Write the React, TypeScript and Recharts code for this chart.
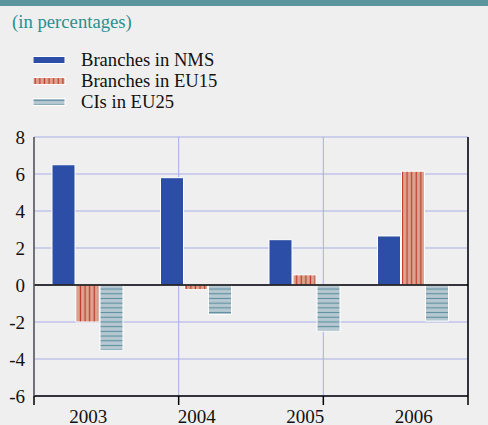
import React from 'react'
import { BarChart, Bar, XAxis, YAxis, CartesianGrid, ReferenceLine } from 'recharts'

const serif = '"Liberation Serif", "DejaVu Serif", serif'

const years = ['2003', '2004', '2005', '2006']
const branchesNms = [6.5, 5.8, 2.45, 2.65]
const branchesEu15 = [-2.0, -0.25, 0.55, 6.15]
const cisEu25 = [-3.55, -1.6, -2.5, -1.95]
const yTicks = [-6, -4, -2, 0, 2, 4, 6, 8]
const boundaryTicks = [0, 1, 2, 3, 4]

const data = years.map((y, i) => ({
  year: y,
  nms: branchesNms[i],
  eu15: branchesEu15[i],
  ci: cisEu25[i],
}))

const NMS_COLOR = '#2c4ea6'
const GRID = '#a9aee6'

const legendItems = [
  { label: 'Branches in NMS', fill: NMS_COLOR },
  { label: 'Branches in EU15', fill: 'url(#stripesV)' },
  { label: 'CIs in EU25', fill: 'url(#stripesH)' },
]

function Patterns() {
  return (
    <defs>
      <pattern id="stripesV" width="4.6" height="10" patternUnits="userSpaceOnUse">
        <rect width="4.6" height="10" fill="#dca591" />
        <rect x="1.6" width="1.3" height="10" fill="#c0402f" />
      </pattern>
      <pattern id="stripesH" width="10" height="4.7" patternUnits="userSpaceOnUse">
        <rect width="10" height="4.7" fill="#b6c8d1" />
        <rect y="1.8" width="10" height="1.1" fill="#5f8fa0" />
      </pattern>
    </defs>
  )
}

export default function App() {
  return (
    <div style={{ position: 'absolute', left: 0, top: 0, width: 488, height: 425, background: '#efefef', overflow: 'hidden', fontFamily: serif }}>
      <div style={{ position: 'absolute', left: 0, top: 0, width: 488, height: 6, background: '#5b969e' }} />
      <div style={{ position: 'absolute', left: 12, top: 11, fontSize: 18.7, lineHeight: '22px', color: '#2a9090' }}>(in percentages)</div>

      <div style={{ position: 'absolute', left: 33, top: 49 }}>
        {legendItems.map((it) => (
          <div key={it.label} style={{ display: 'flex', alignItems: 'center', height: 21 }}>
            <svg width={33} height={8} style={{ marginRight: 15 }}>
              <Patterns />
              <rect x={0} y={0.5} width={32} height={7} fill={it.fill} stroke="#ffffff" strokeWidth={1} />
            </svg>
            <span style={{ fontSize: 18.6, lineHeight: '21px', color: '#111' }}>{it.label}</span>
          </div>
        ))}
      </div>

      <BarChart
        width={488}
        height={425}
        data={data}
        margin={{ top: 137, right: 0, left: 0, bottom: 0 }}
        barCategoryGap="16.6%"
        barGap={1}
        style={{ position: 'absolute', left: 0, top: 0 }}
      >
        <Patterns />
        <XAxis
          xAxisId="b"
          type="number"
          domain={[0, 4]}
          ticks={boundaryTicks}
          height={1}
          tickSize={9}
          tickFormatter={() => ''}
          axisLine={{ stroke: '#000', strokeWidth: 1.5 }}
          tickLine={{ stroke: '#000', strokeWidth: 1.5 }}
        />
        <XAxis
          xAxisId="cat"
          dataKey="year"
          height={28}
          axisLine={false}
          tickLine={false}
          tickSize={11}
          tickMargin={2}
          tick={{ fontSize: 19, fill: '#111', fontFamily: serif }}
        />
        <YAxis
          yAxisId="l"
          domain={[-6, 8]}
          ticks={yTicks}
          width={34}
          interval={0}
          tickLine={false}
          tickSize={7}
          tickMargin={2}
          axisLine={{ stroke: '#555', strokeWidth: 1.5 }}
          tick={{ fontSize: 19, fill: '#111', fontFamily: serif }}
        />
        <YAxis
          yAxisId="r"
          orientation="right"
          domain={[-6, 8]}
          ticks={yTicks}
          width={20}
          interval={0}
          tickLine={false}
          tickSize={13}
          tickMargin={2}
          axisLine={{ stroke: '#000', strokeWidth: 1.5 }}
          tick={{ fontSize: 19, fill: '#111', fontFamily: serif, textAnchor: 'start' }}
        />
        <CartesianGrid xAxisId="b" yAxisId="l" stroke={GRID} strokeWidth={1} />
        <Bar xAxisId="cat" yAxisId="l" dataKey="nms" fill={NMS_COLOR} stroke="#fff" strokeWidth={1} isAnimationActive={false} />
        <Bar xAxisId="cat" yAxisId="l" dataKey="eu15" fill="url(#stripesV)" stroke="#fff" strokeWidth={1} isAnimationActive={false} />
        <Bar xAxisId="cat" yAxisId="l" dataKey="ci" fill="url(#stripesH)" stroke="#fff" strokeWidth={1} isAnimationActive={false} />
        <ReferenceLine yAxisId="l" xAxisId="cat" y={0} stroke="#000" strokeWidth={1.5} />
      </BarChart>
    </div>
  )
}
